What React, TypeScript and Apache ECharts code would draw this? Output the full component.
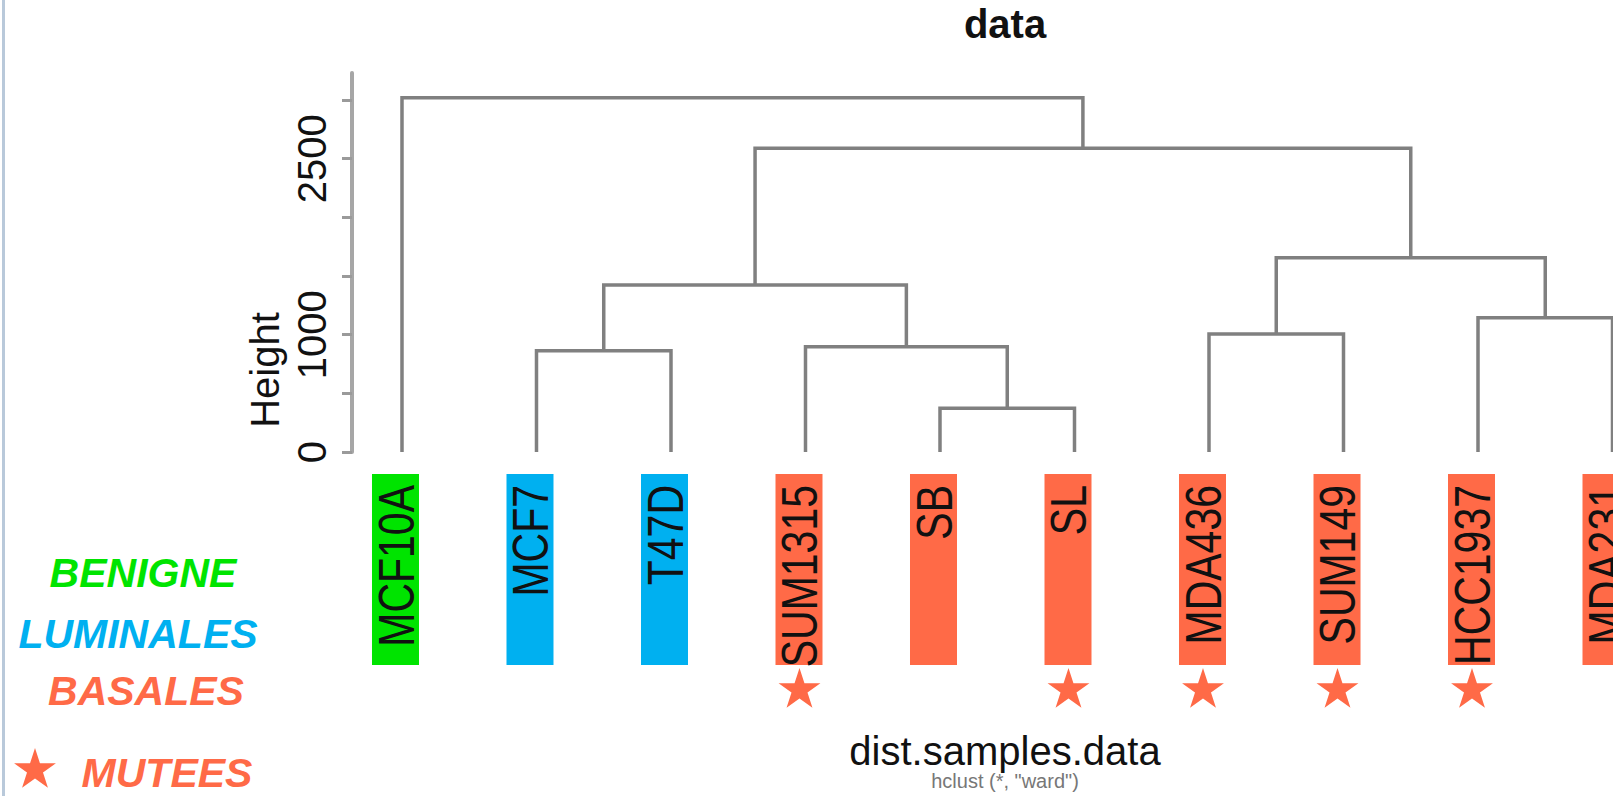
import React, { useEffect, useRef } from "react";
import * as echarts from "echarts";

// ---- data ----
const leafLabels = ["MCF10A", "MCF7", "T47D", "SUM1315", "SB", "SL", "MDA436", "SUM149", "HCC1937", "MDA231"];
const leafGroups = ["BENIGNE", "LUMINALES", "LUMINALES", "BASALES", "BASALES", "BASALES", "BASALES", "BASALES", "BASALES", "BASALES"];
const mutatedLeaves = ["SUM1315", "SL", "MDA436", "SUM149", "HCC1937"];
// hclust-style merges: negative = leaf (1-based), positive = earlier merge step
const mergeLeft = [-5, -2, -4, -7, -9, 2, 4, 6, -1];
const mergeRight = [-6, -3, 1, -8, -10, 3, 5, 7, 8];
const mergeHeights = [372, 862, 897, 1006, 1145, 1423, 1656, 2588, 3020];
const yTickValues = [0, 500, 1000, 1500, 2000, 2500, 3000];
const yLabelValues = [0, 1000, 2500];
const legendGroups = ["BENIGNE", "LUMINALES", "BASALES"];
const legendMutated = "MUTEES";
const titleText = "data";
const xTitle = "dist.samples.data";
const subTitle = 'hclust (*, "ward")';
const yTitle = "Height";

const groupColors: Record<string, string> = {
  BENIGNE: "#00e400",
  LUMINALES: "#00b0f0",
  BASALES: "#ff6a47",
};
const MUT_COLOR = "#ff6a47";
const SANS = '"Liberation Sans", Arial, Helvetica, sans-serif';

function buildMerges() {
  const mx: number[] = [];
  const items: number[][] = [];
  for (let i = 0; i < mergeHeights.length; i++) {
    const pos = (m: number) => (m < 0 ? -m : mx[m - 1]);
    const hgt = (m: number) => (m < 0 ? 0 : mergeHeights[m - 1]);
    const lx = pos(mergeLeft[i]);
    const rx = pos(mergeRight[i]);
    mx.push((lx + rx) / 2);
    items.push([lx, hgt(mergeLeft[i]), rx, hgt(mergeRight[i]), mergeHeights[i]]);
  }
  return items;
}

function starPoints(cx: number, cy: number, r: number) {
  const pts: number[][] = [];
  for (let k = 0; k < 10; k++) {
    const a = -Math.PI / 2 + (k * Math.PI) / 5;
    const rr = k % 2 === 0 ? r : r * 0.382;
    pts.push([cx + rr * Math.cos(a), cy + rr * Math.sin(a)]);
  }
  return pts;
}

export default function App() {
  const ref = useRef<HTMLDivElement>(null);
  useEffect(() => {
    if (!ref.current) return;
    const chart = echarts.init(ref.current, undefined, { renderer: "svg" });
    const merges = buildMerges();
    const leafData = leafLabels.map((_, i) => [i + 1, 0]);

    const legendY = [573, 634, 691];
    const legendX = [143, 138, 146];

    const option: any = {
      animation: false,
      backgroundColor: "#ffffff",
      grid: { left: 352, right: 0, top: 73, bottom: 344, containLabel: false, outerBoundsMode: "none" },
      xAxis: { type: "value", min: 0.6283, max: 10.0037, show: false },
      yAxis: {
        type: "value",
        min: 0,
        max: 3230,
        interval: 500,
        splitLine: { show: false },
        axisLine: { show: true, lineStyle: { color: "#a6a6a6", width: 4 } },
        axisTick: { show: true, length: 10, lineStyle: { color: "#9a9a9a", width: 3 }, customValues: yTickValues },
        axisLabel: {
          show: true,
          rotate: 90,
          margin: 20,
          fontSize: 40,
          fontFamily: SANS,
          color: "#111",
          customValues: yLabelValues,
          formatter: (v: number) => String(v),
        },
      },
      series: [
        {
          type: "custom",
          clip: false,
          data: merges,
          renderItem: (params: any, api: any) => {
            const a = api.coord([api.value(0), api.value(1)]);
            const b = api.coord([api.value(0), api.value(4)]);
            const c = api.coord([api.value(2), api.value(4)]);
            const d = api.coord([api.value(2), api.value(3)]);
            return {
              type: "polyline",
              shape: { points: [a, b, c, d] },
              style: { stroke: "#808080", lineWidth: 3.5, fill: "none", lineJoin: "miter" },
            };
          },
        },
        {
          type: "custom",
          clip: false,
          data: leafData,
          renderItem: (params: any, api: any) => {
            const i = params.dataIndex;
            const [cx, y0] = api.coord([api.value(0), 0]);
            const name = leafLabels[i];
            const children: any[] = [
              {
                type: "rect",
                shape: { x: cx - 30, y: y0 + 22, width: 47, height: 191 },
                style: { fill: groupColors[leafGroups[i]] },
              },
              {
                type: "text",
                x: cx - 5,
                y: y0 + 33,
                rotation: Math.PI / 2,
                scaleY: 1.2,
                style: {
                  text: name,
                  fill: "#111",
                  font: `41px ${SANS}`,
                  align: "right",
                  verticalAlign: "middle",
                },
              },
            ];
            if (mutatedLeaves.includes(name)) {
              children.push({
                type: "polygon",
                shape: { points: starPoints(cx - 6, y0 + 238, 22) },
                style: { fill: MUT_COLOR },
              });
            }
            return { type: "group", children };
          },
        },
      ],
      graphic: [
        { type: "rect", shape: { x: 2, y: 0, width: 3, height: 796 }, style: { fill: "#b9c9da" } },
        {
          type: "text",
          x: 1005,
          y: 24,
          style: { text: titleText, font: `bold 40px ${SANS}`, fill: "#111", align: "center", verticalAlign: "middle" },
        },
        {
          type: "text",
          x: 265,
          y: 370,
          rotation: Math.PI / 2,
          style: { text: yTitle, font: `40px ${SANS}`, fill: "#111", align: "center", verticalAlign: "middle" },
        },
        {
          type: "text",
          x: 1005,
          y: 751,
          style: { text: xTitle, font: `40px ${SANS}`, fill: "#111", align: "center", verticalAlign: "middle" },
        },
        {
          type: "text",
          x: 1005,
          y: 781,
          style: { text: subTitle, font: `20px ${SANS}`, fill: "#777", align: "center", verticalAlign: "middle" },
        },
        ...legendGroups.map((g, k) => ({
          type: "text",
          x: legendX[k],
          y: legendY[k],
          style: {
            text: g,
            font: `italic bold 41px ${SANS}`,
            fill: groupColors[g],
            align: "center",
            verticalAlign: "middle",
          },
        })),
        {
          type: "polygon",
          shape: { points: starPoints(35, 770, 22) },
          style: { fill: MUT_COLOR },
        },
        {
          type: "text",
          x: 167,
          y: 773,
          style: { text: legendMutated, font: `italic bold 41px ${SANS}`, fill: MUT_COLOR, align: "center", verticalAlign: "middle" },
        },
      ],
    };
    chart.setOption(option);
    return () => chart.dispose();
  }, []);
  return (
    <div
      ref={ref}
      style={{ position: "fixed", left: 0, top: 0, width: "1613px", height: "796px", background: "#fff" }}
    />
  );
}
